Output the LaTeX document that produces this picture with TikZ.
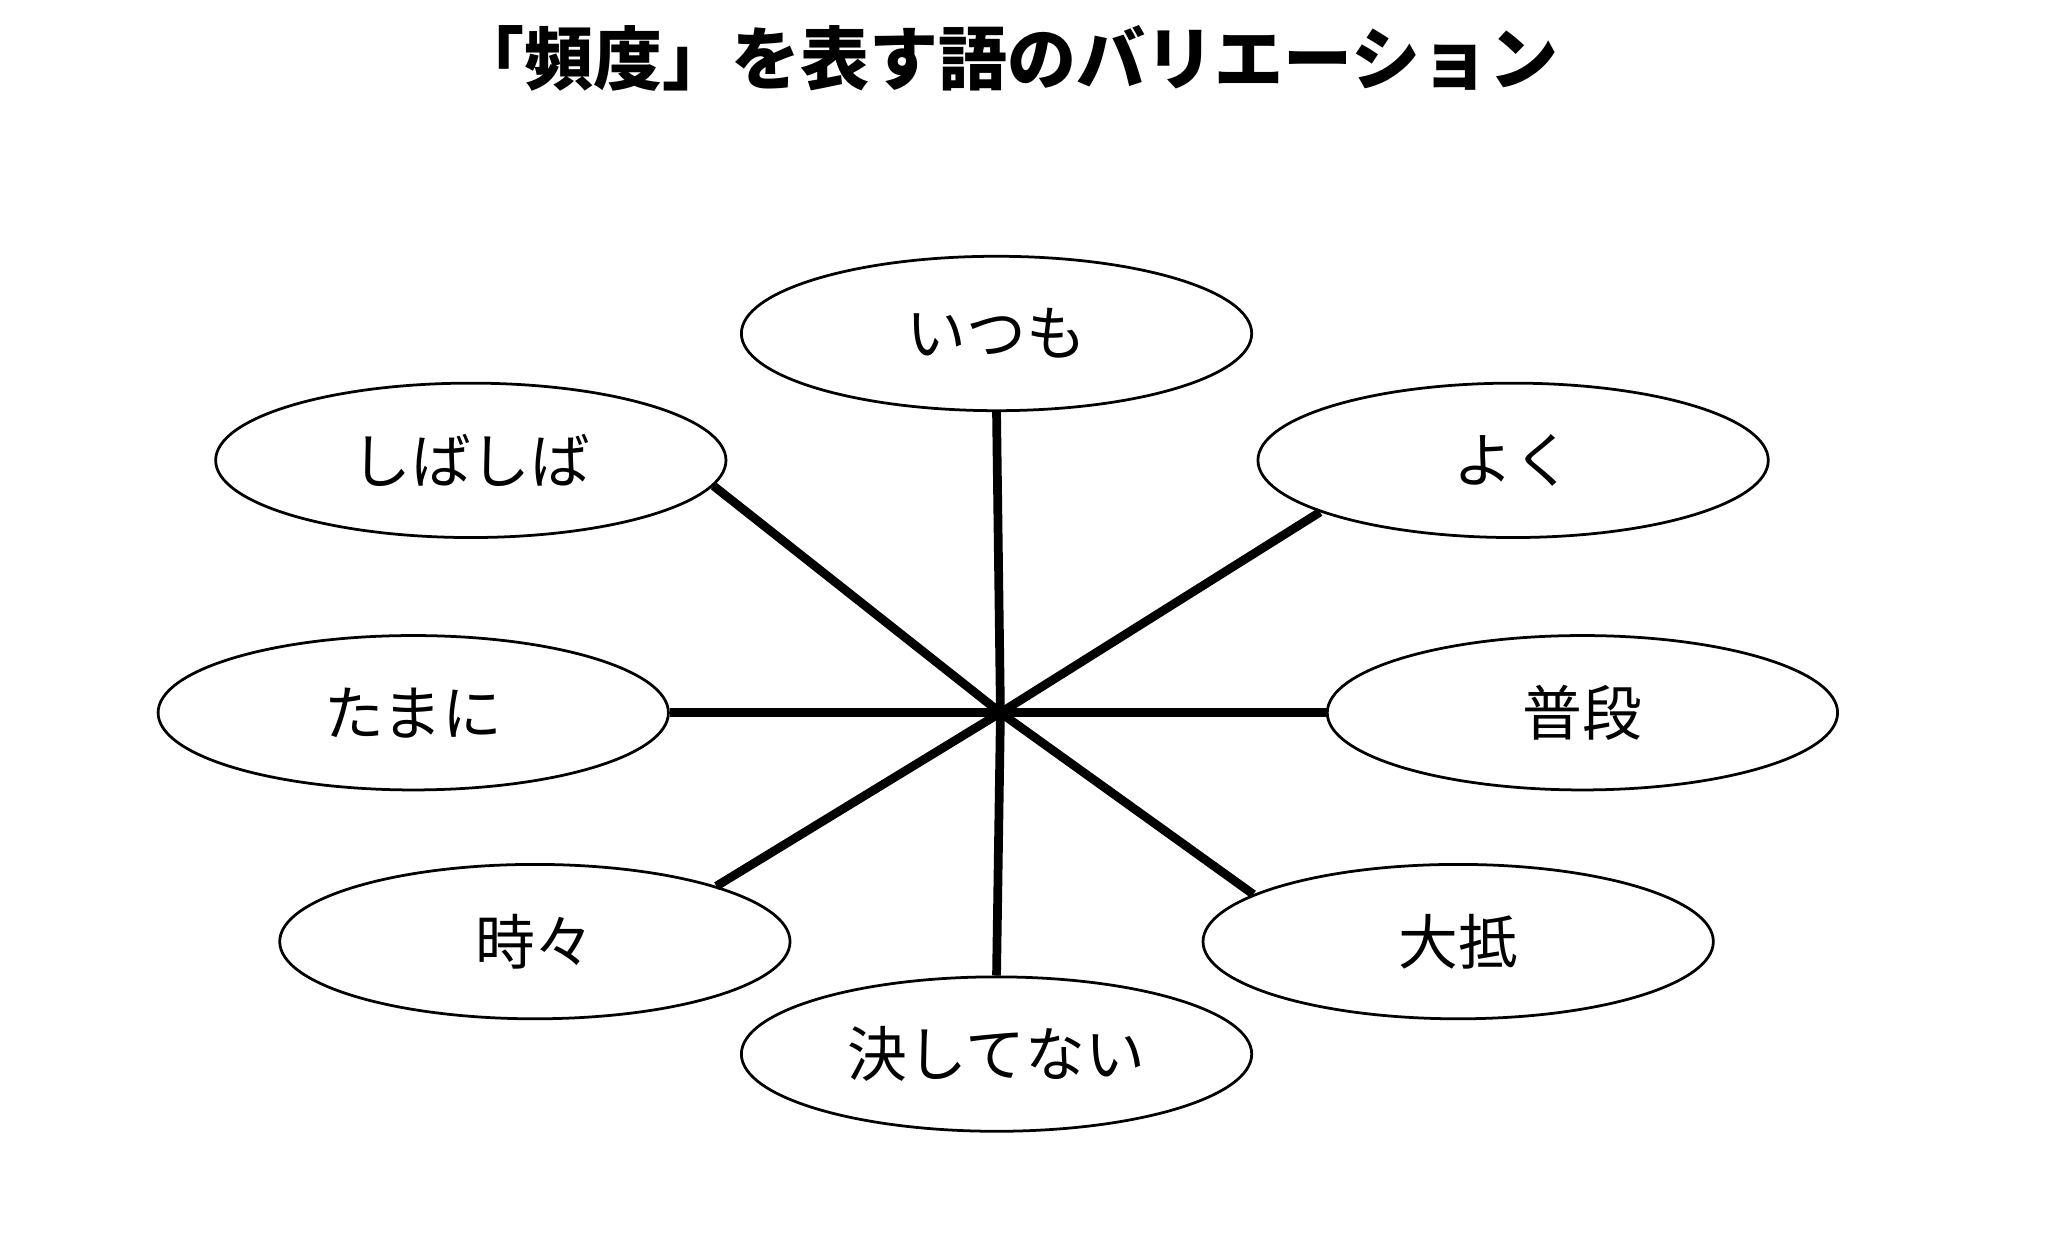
\documentclass[tikz,border=0pt]{standalone}
\usepackage{fontspec}
\setmainfont{Noto Sans CJK JP}
\usetikzlibrary{shapes.geometric}
\tikzset{
    word/.style = {
        draw, ellipse, line width=0.6pt,
        minimum width=3.9cm, minimum height=1.18cm,
        inner sep=0pt, font=\fontsize{13}{13}\selectfont,
        },
    spoke/.style = {
        line width=1.9pt,
        },
}
\begin{document}
\begin{tikzpicture}[x=0.01cm,y=-0.01cm]
            \useasboundingbox (0,0) rectangle (1566,949);
            \node[font=\bfseries\fontsize{15}{15}\selectfont] (title) at (770,45) {「頻度」を表す語のバリエーション};

            \coordinate (hub) at (765,545);
            \node[word] (itsumo) at (762,255) {いつも};
            \node[word] (shiba) at (360,352) {しばしば};
            \node[word] (yoku) at (1157,352) {よく};
            \node[word] (tamani) at (316,545) {たまに};
            \node[word] (fudan) at (1210,545) {普段};
            \node[word] (tokidoki) at (409,720) {時々};
            \node[word] (taitei) at (1115,720) {大抵};
            \node[word] (kesshite) at (762,806) {決してない};

            \draw[spoke] (hub) -- (itsumo.south);
            \draw[spoke] (hub) -- (kesshite.north);
            \draw[spoke] (hub) -- (tamani.east);
            \draw[spoke] (hub) -- (fudan.west);
            \draw[spoke] (hub) -- (shiba.-6.7);
            \draw[spoke] (hub) -- (yoku.195);
            \draw[spoke] (hub) -- (tokidoki.17.5);
            \draw[spoke] (hub) -- (taitei.167);
        \end{tikzpicture}
\end{document}
